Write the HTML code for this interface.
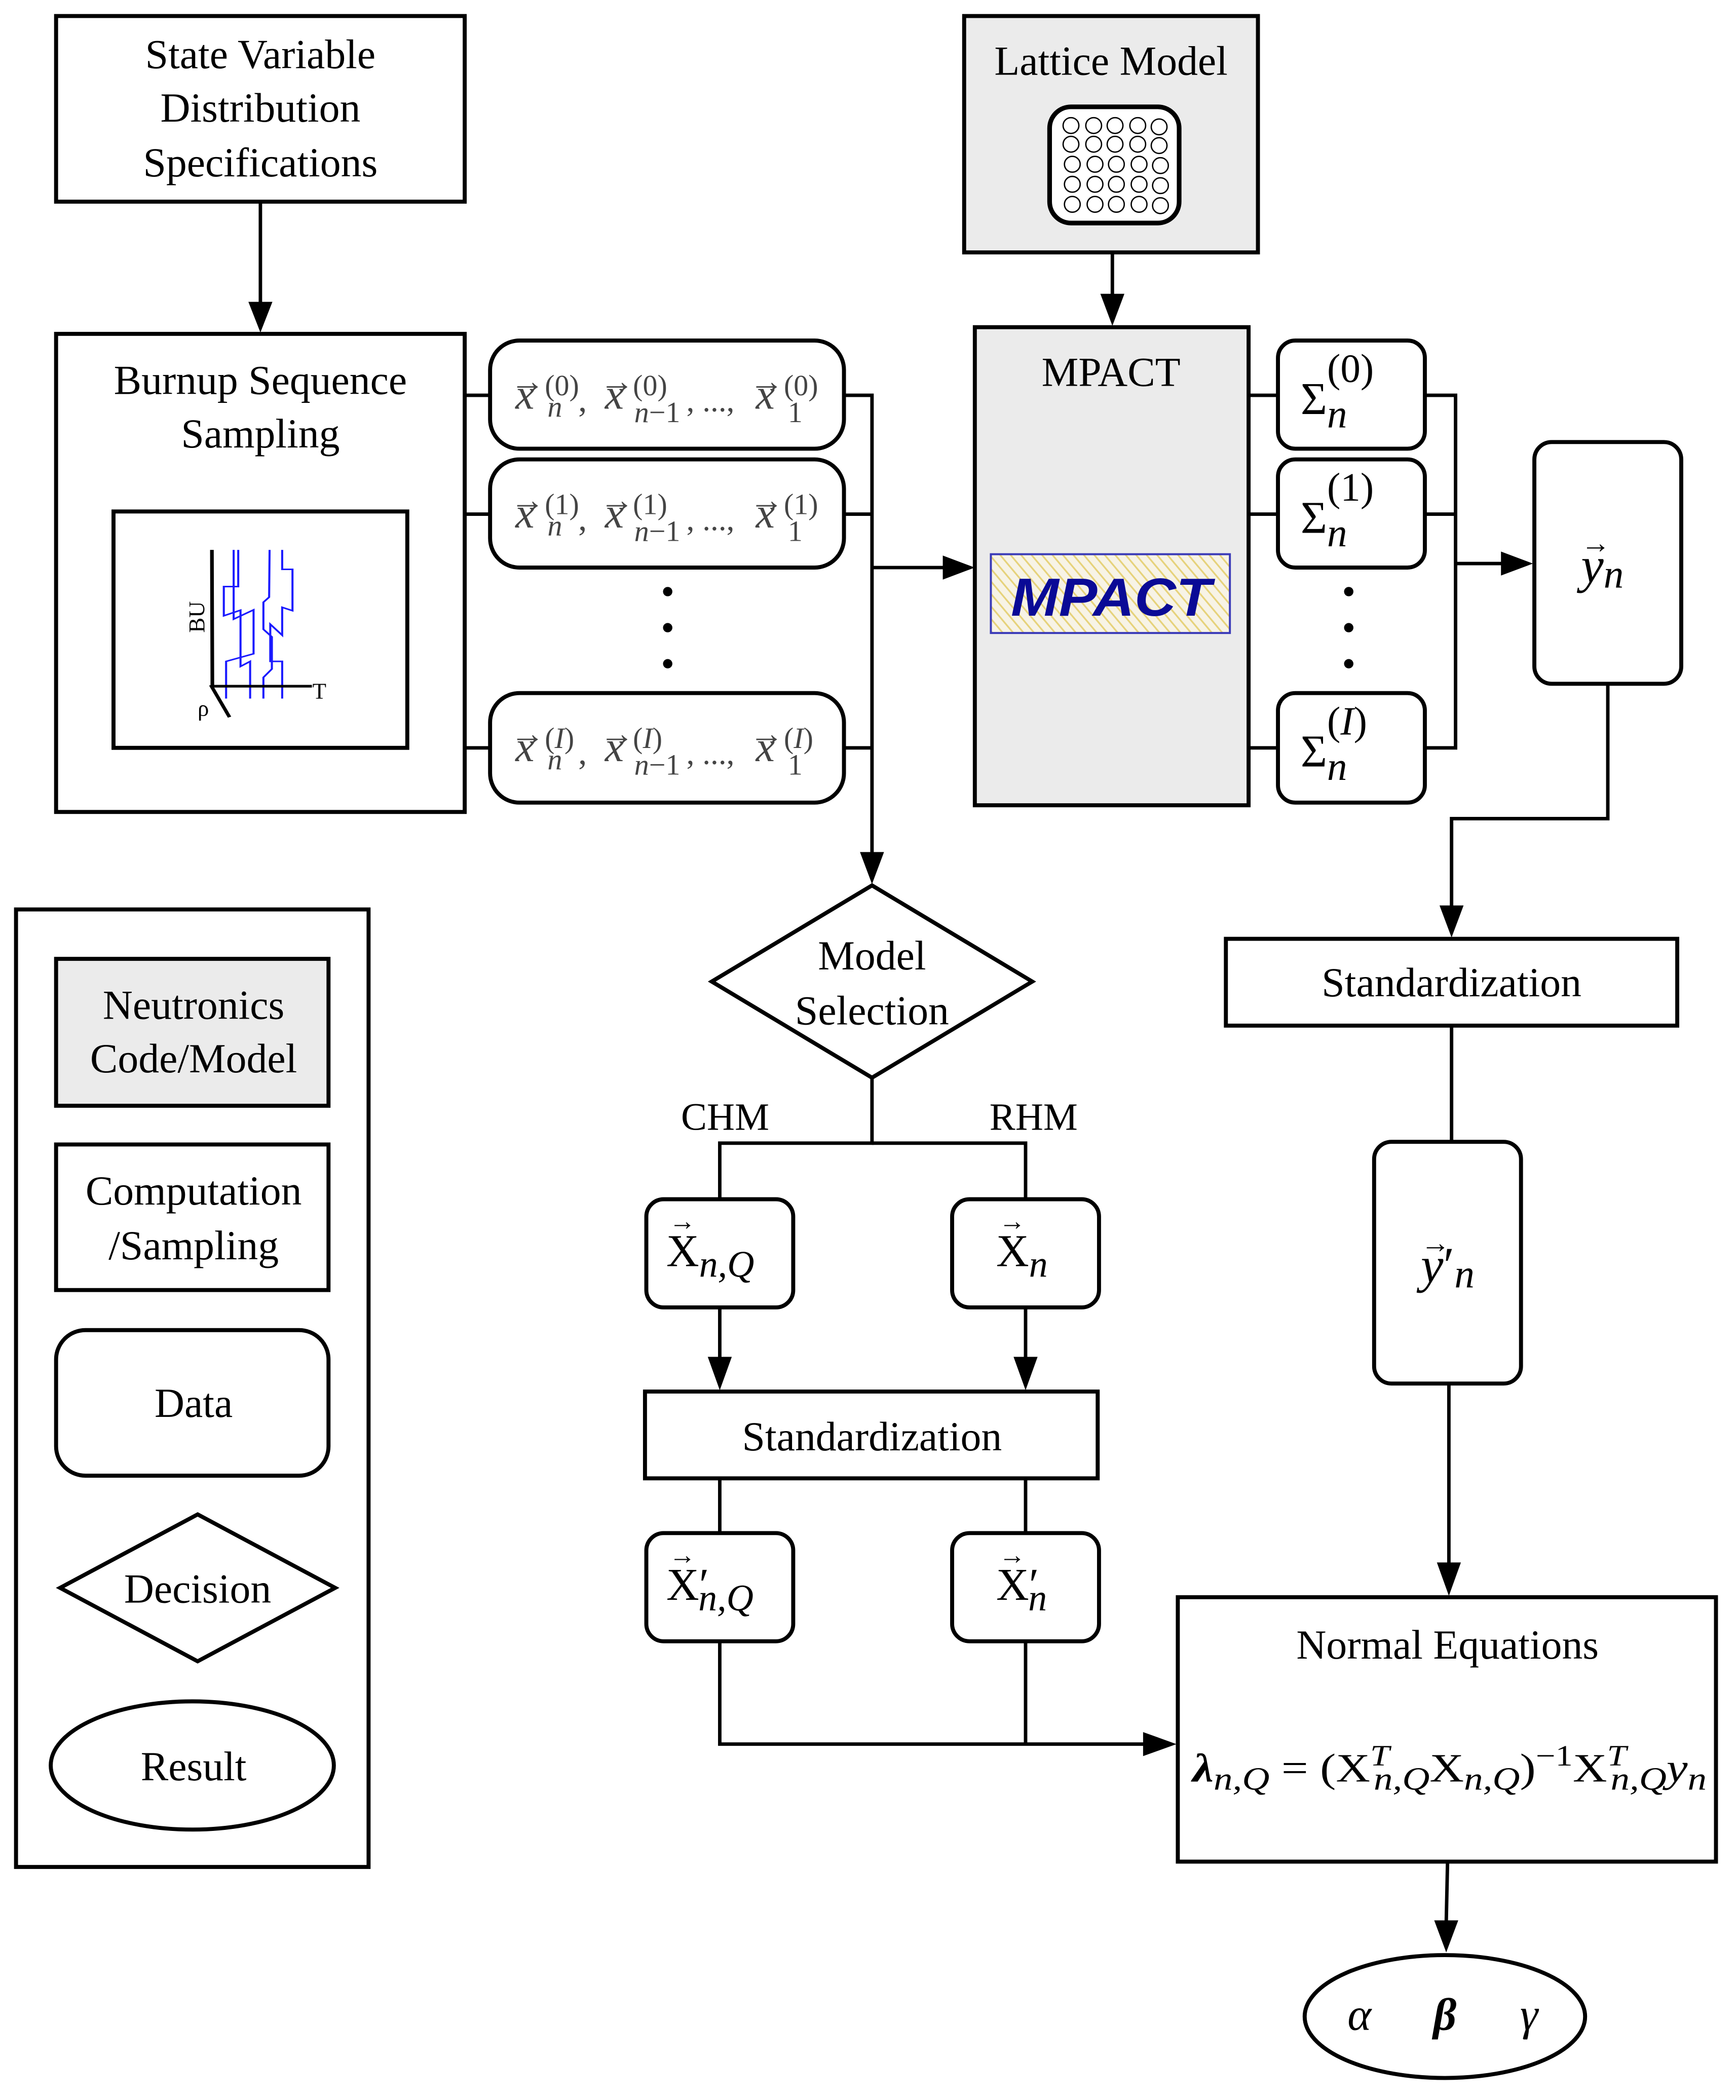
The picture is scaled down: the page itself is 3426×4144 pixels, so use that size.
<!DOCTYPE html>
<html><head><meta charset="utf-8"><style>html,body{margin:0;padding:0;background:#fff}svg{display:block}</style></head>
<body>
<svg xmlns="http://www.w3.org/2000/svg" width="3426" height="4144" viewBox="0 0 1300 1572.5" preserveAspectRatio="none" font-family="'Liberation Serif', serif">
<defs>
<pattern id="hatch" width="6" height="6" patternUnits="userSpaceOnUse" patternTransform="rotate(-40)">
<rect width="6" height="6" fill="#f7f3e6"/><line x1="0" y1="0" x2="0" y2="6" stroke="#e6d27a" stroke-width="2.5"/>
</pattern>
</defs>
<g fill="none" stroke="#000" stroke-width="3">
<rect x="42" y="12" width="306" height="139" fill="#fff"/>
<rect x="42" y="250" width="306" height="358" fill="#fff"/>
<rect x="85" y="383" width="220" height="177"/>
<rect x="367" y="255" width="265" height="81" rx="22" fill="#fff"/>
<rect x="367" y="344" width="265" height="81" rx="22" fill="#fff"/>
<rect x="367" y="519" width="265" height="82" rx="22" fill="#fff"/>
<rect x="722" y="12" width="220" height="177" fill="#ebebeb"/>
<rect x="786" y="80" width="97" height="87" rx="16" fill="#fff" stroke-width="3.5"/>
<rect x="730" y="245" width="205" height="358" fill="#ebebeb"/>
<rect x="957" y="255" width="110" height="81" rx="13" fill="#fff"/>
<rect x="957" y="344" width="110" height="81" rx="13" fill="#fff"/>
<rect x="957" y="519" width="110" height="82" rx="13" fill="#fff"/>
<rect x="1149" y="331" width="110" height="181" rx="13" fill="#fff"/>
<rect x="918" y="703" width="338" height="65" fill="#fff"/>
<rect x="1029" y="855" width="110" height="181" rx="13" fill="#fff"/>
<rect x="882" y="1196" width="403" height="198" fill="#fff"/>
<ellipse cx="1082" cy="1510" rx="105" ry="46" fill="#fff"/>
<polygon points="653,663 773,735 653,807 533,735" fill="#fff"/>
<rect x="484" y="898" width="110" height="81" rx="13" fill="#fff"/>
<rect x="713" y="898" width="110" height="81" rx="13" fill="#fff"/>
<rect x="483" y="1042" width="339" height="65" fill="#fff"/>
<rect x="484" y="1148" width="110" height="81" rx="13" fill="#fff"/>
<rect x="713" y="1148" width="110" height="81" rx="13" fill="#fff"/>
<rect x="12" y="681" width="264" height="717" fill="#fff"/>
<rect x="42" y="718" width="204" height="110" fill="#ebebeb"/>
<rect x="42" y="857" width="204" height="109" fill="#fff"/>
<rect x="42" y="996" width="204" height="109" rx="22" fill="#fff"/>
<polygon points="148,1134 251,1189 148,1244 45,1189" fill="#fff"/>
<ellipse cx="144" cy="1322" rx="106" ry="48" fill="#fff"/>
</g>
<g fill="none" stroke="#000" stroke-width="2.6">
<line x1="195" y1="151" x2="195" y2="228"/>
<line x1="348" y1="296" x2="367" y2="296"/>
<line x1="348" y1="385" x2="367" y2="385"/>
<line x1="348" y1="560" x2="367" y2="560"/>
<polyline points="632,296 653,296 653,640"/>
<line x1="632" y1="385" x2="653" y2="385"/>
<line x1="632" y1="560" x2="653" y2="560"/>
<line x1="653" y1="425" x2="708" y2="425"/>
<line x1="833" y1="189" x2="833" y2="222"/>
<line x1="935" y1="296" x2="957" y2="296"/>
<line x1="935" y1="385" x2="957" y2="385"/>
<line x1="935" y1="560" x2="957" y2="560"/>
<polyline points="1067,296 1090,296 1090,560 1067,560"/>
<line x1="1067" y1="385" x2="1090" y2="385"/>
<line x1="1090" y1="422" x2="1126" y2="422"/>
<polyline points="1204,512 1204,613 1087,613 1087,680"/>
<line x1="1087" y1="768" x2="1087" y2="855"/>
<line x1="1085" y1="1036" x2="1085" y2="1172"/>
<line x1="1084" y1="1394" x2="1083" y2="1440"/>
<polyline points="653,807 653,856 539,856 539,898"/>
<polyline points="653,856 768,856 768,898"/>
<line x1="539" y1="979" x2="539" y2="1018"/>
<line x1="768" y1="979" x2="768" y2="1018"/>
<line x1="539" y1="1107" x2="539" y2="1148"/>
<line x1="768" y1="1107" x2="768" y2="1148"/>
<polyline points="539,1229 539,1306 858,1306"/>
<line x1="768" y1="1229" x2="768" y2="1306"/>
</g>
<g fill="#000">
<polygon points="186,226 204,226 195,249"/>
<polygon points="644,638 662,638 653,662"/>
<polygon points="706,416 706,434 730,425"/>
<polygon points="824,220 842,220 833,244"/>
<polygon points="1124,413 1124,431 1148,422"/>
<polygon points="1078,678 1096,678 1087,702"/>
<polygon points="1076,1170 1094,1170 1085,1195"/>
<polygon points="1074,1438 1092,1438 1083,1462"/>
<polygon points="530,1016 548,1016 539,1041"/>
<polygon points="759,1016 777,1016 768,1041"/>
<polygon points="856,1297 856,1315 881,1306"/>
</g>
<g fill="none" stroke="#000" stroke-width="1">
<circle cx="802" cy="94" r="5.9"/><circle cx="819" cy="94" r="5.9"/><circle cx="835" cy="94" r="5.9"/><circle cx="852" cy="94" r="5.9"/><circle cx="868" cy="95" r="5.9"/>
<circle cx="802" cy="108" r="5.9"/><circle cx="819" cy="108" r="5.9"/><circle cx="835" cy="108" r="5.9"/><circle cx="852" cy="108" r="5.9"/><circle cx="868" cy="109" r="5.9"/>
<circle cx="803" cy="123" r="5.9"/><circle cx="820" cy="123" r="5.9"/><circle cx="836" cy="123" r="5.9"/><circle cx="853" cy="123" r="5.9"/><circle cx="869" cy="124" r="5.9"/>
<circle cx="803" cy="138" r="5.9"/><circle cx="820" cy="138" r="5.9"/><circle cx="836" cy="138" r="5.9"/><circle cx="853" cy="138" r="5.9"/><circle cx="869" cy="139" r="5.9"/>
<circle cx="803" cy="153" r="5.9"/><circle cx="820" cy="153" r="5.9"/><circle cx="836" cy="153" r="5.9"/><circle cx="853" cy="153" r="5.9"/><circle cx="869" cy="154" r="5.9"/>
</g>
<rect x="742" y="415" width="179" height="59" fill="url(#hatch)" stroke="#3a3ab8" stroke-width="1.5"/>
<text x="832" y="461" text-anchor="middle" font-family="'Liberation Sans', sans-serif" font-weight="bold" font-style="italic" font-size="40" fill="#0a0a96" textLength="150" lengthAdjust="spacingAndGlyphs">MPACT</text>
<g transform="translate(75.9,379.5) scale(0.1714,0.1265)" fill="none">
<g stroke="#1a1aff" stroke-width="9">
<polyline points="598,255 598,472 535,472 535,645 608,612 608,945 650,915 650,1135"/>
<polyline points="578,255 578,665 665,610 665,870 545,915 545,1135"/>
<polyline points="735,255 733,535 708,565 708,725 745,770 745,960 708,1010 708,1135"/>
<polyline points="790,255 790,370 835,370 835,615 790,595 790,760 738,695 738,915 790,915 790,1135"/>
</g>
<g stroke="#000" stroke-width="16">
<polyline points="483,255 485,1062 920,1062"/>
<line x1="478" y1="1055" x2="560" y2="1245"/>
</g>
</g>
<text transform="translate(153,462) rotate(-90)" text-anchor="middle" font-size="17">BU</text>
<text x="234" y="523" font-size="17">T</text>
<text x="148" y="536" font-size="17">ρ</text>
<g font-size="31" text-anchor="middle" fill="#000">
<text x="195" y="51">State Variable</text>
<text x="195" y="91">Distribution</text>
<text x="195" y="132">Specifications</text>
<text x="195" y="295">Burnup Sequence</text>
<text x="195" y="335">Sampling</text>
<text x="832" y="56">Lattice Model</text>
<text x="832" y="289">MPACT</text>
<text x="653" y="726">Model</text>
<text x="653" y="767">Selection</text>
<text x="543" y="846" font-size="29">CHM</text>
<text x="774" y="846" font-size="29">RHM</text>
<text x="1087" y="746">Standardization</text>
<text x="653" y="1086">Standardization</text>
<text x="1084" y="1242">Normal Equations</text>
<text x="145" y="763">Neutronics</text>
<text x="145" y="803">Code/Model</text>
<text x="145" y="902">Computation</text>
<text x="145" y="943">/Sampling</text>
<text x="145" y="1061">Data</text>
<text x="148" y="1200">Decision</text>
<text x="145" y="1333">Result</text>
</g>
<g fill="#444" font-style="italic">
<text x="382" y="294" font-size="26" font-style="normal" textLength="26" lengthAdjust="spacingAndGlyphs">→</text>
<text x="386" y="306" font-size="32">x</text>
<text x="408" y="296" font-size="22" font-style="normal">(0)</text>
<text x="410" y="312" font-size="22">n</text>
<text x="433" y="308" font-size="26" font-style="normal">,</text>
<text x="449" y="294" font-size="26" font-style="normal" textLength="26" lengthAdjust="spacingAndGlyphs">→</text>
<text x="453" y="306" font-size="32">x</text>
<text x="474" y="296" font-size="22" font-style="normal">(0)</text>
<text x="475" y="316" font-size="22">n<tspan font-style="normal">−1</tspan></text>
<text x="514" y="308" font-size="24" font-style="normal">, ..., </text>
<text x="561" y="294" font-size="26" font-style="normal" textLength="26" lengthAdjust="spacingAndGlyphs">→</text>
<text x="566" y="306" font-size="32">x</text>
<text x="587" y="296" font-size="22" font-style="normal">(0)</text>
<text x="590" y="316" font-size="22" font-style="normal">1</text>
</g>
<g fill="#444" font-style="italic" transform="translate(0,89)">
<text x="382" y="294" font-size="26" font-style="normal" textLength="26" lengthAdjust="spacingAndGlyphs">→</text>
<text x="386" y="306" font-size="32">x</text>
<text x="408" y="296" font-size="22" font-style="normal">(1)</text>
<text x="410" y="312" font-size="22">n</text>
<text x="433" y="308" font-size="26" font-style="normal">,</text>
<text x="449" y="294" font-size="26" font-style="normal" textLength="26" lengthAdjust="spacingAndGlyphs">→</text>
<text x="453" y="306" font-size="32">x</text>
<text x="474" y="296" font-size="22" font-style="normal">(1)</text>
<text x="475" y="316" font-size="22">n<tspan font-style="normal">−1</tspan></text>
<text x="514" y="308" font-size="24" font-style="normal">, ..., </text>
<text x="561" y="294" font-size="26" font-style="normal" textLength="26" lengthAdjust="spacingAndGlyphs">→</text>
<text x="566" y="306" font-size="32">x</text>
<text x="587" y="296" font-size="22" font-style="normal">(1)</text>
<text x="590" y="316" font-size="22" font-style="normal">1</text>
</g>
<g fill="#444" font-style="italic" transform="translate(0,264)">
<text x="382" y="294" font-size="26" font-style="normal" textLength="26" lengthAdjust="spacingAndGlyphs">→</text>
<text x="386" y="306" font-size="32">x</text>
<text x="408" y="296" font-size="22" font-style="normal">(<tspan font-style="italic">I</tspan>)</text>
<text x="410" y="312" font-size="22">n</text>
<text x="433" y="308" font-size="26" font-style="normal">,</text>
<text x="449" y="294" font-size="26" font-style="normal" textLength="26" lengthAdjust="spacingAndGlyphs">→</text>
<text x="453" y="306" font-size="32">x</text>
<text x="474" y="296" font-size="22" font-style="normal">(<tspan font-style="italic">I</tspan>)</text>
<text x="475" y="316" font-size="22">n<tspan font-style="normal">−1</tspan></text>
<text x="514" y="308" font-size="24" font-style="normal">, ..., </text>
<text x="561" y="294" font-size="26" font-style="normal" textLength="26" lengthAdjust="spacingAndGlyphs">→</text>
<text x="566" y="306" font-size="32">x</text>
<text x="587" y="296" font-size="22" font-style="normal">(<tspan font-style="italic">I</tspan>)</text>
<text x="590" y="316" font-size="22" font-style="normal">1</text>
</g>
<g fill="#000">
<circle cx="500" cy="443" r="3.5"/><circle cx="500" cy="470" r="3.5"/><circle cx="500" cy="497" r="3.5"/>
<circle cx="1010" cy="443" r="3.5"/><circle cx="1010" cy="470" r="3.5"/><circle cx="1010" cy="497" r="3.5"/>
</g>
<g font-size="34" fill="#000">
<text x="974" y="310">Σ<tspan font-style="italic" font-size="30" dy="10">n</tspan><tspan font-size="30" dx="-15" dy="-34">(0)</tspan></text>
<text x="974" y="399">Σ<tspan font-style="italic" font-size="30" dy="10">n</tspan><tspan font-size="30" dx="-15" dy="-34">(1)</tspan></text>
<text x="974" y="574">Σ<tspan font-style="italic" font-size="30" dy="10">n</tspan><tspan font-size="30" dx="-15" dy="-34">(<tspan font-style="italic">I</tspan>)</tspan></text>
</g>
<g fill="#000" font-size="38" font-style="italic">
<text x="1184" y="436">y<tspan font-size="30" dy="4">n</tspan></text>
<text x="1184" y="414" font-size="22" font-style="normal">→</text>
<text x="1064" y="960">y<tspan font-style="normal">′</tspan><tspan font-size="30" dy="4">n</tspan></text>
<text x="1064" y="938" font-size="22" font-style="normal">→</text>
</g>
<g fill="#000" font-size="34">
<text x="499" y="948">X<tspan font-style="italic" font-size="28" dy="8">n,Q</tspan></text>
<text x="501" y="921" font-size="20">→</text>
<text x="746" y="948">X<tspan font-style="italic" font-size="28" dy="8">n</tspan></text>
<text x="748" y="921" font-size="20">→</text>
<text x="499" y="1198">X<tspan>′</tspan><tspan font-style="italic" font-size="28" dy="8" dx="-8">n,Q</tspan></text>
<text x="501" y="1171" font-size="20">→</text>
<text x="746" y="1198">X<tspan>′</tspan><tspan font-style="italic" font-size="28" dy="8" dx="-8">n</tspan></text>
<text x="748" y="1171" font-size="20">→</text>
</g>
<text x="893" y="1334" font-size="30" fill="#000" textLength="385" lengthAdjust="spacingAndGlyphs"><tspan font-weight="bold" font-style="italic">λ</tspan><tspan font-style="italic" font-size="24" dy="6">n,Q</tspan><tspan dy="-6"> = (X</tspan><tspan font-style="italic" font-size="22" dy="-12">T</tspan><tspan font-style="italic" font-size="24" dx="-10" dy="18">n,Q</tspan><tspan dy="-6">X</tspan><tspan font-style="italic" font-size="24" dy="6">n,Q</tspan><tspan dy="-6">)</tspan><tspan font-size="22" dy="-12">−1</tspan><tspan dy="12">X</tspan><tspan font-style="italic" font-size="22" dy="-12">T</tspan><tspan font-style="italic" font-size="24" dx="-10" dy="18">n,Q</tspan><tspan font-style="italic" dy="-6">y</tspan><tspan font-style="italic" font-size="24" dy="6">n</tspan></text>
<g font-size="34" font-style="italic" fill="#000" text-anchor="middle">
<text x="1018" y="1520">α</text>
<text x="1082" y="1520" font-weight="bold">β</text>
<text x="1145" y="1520">γ</text>
</g>
</svg>
</body></html>
